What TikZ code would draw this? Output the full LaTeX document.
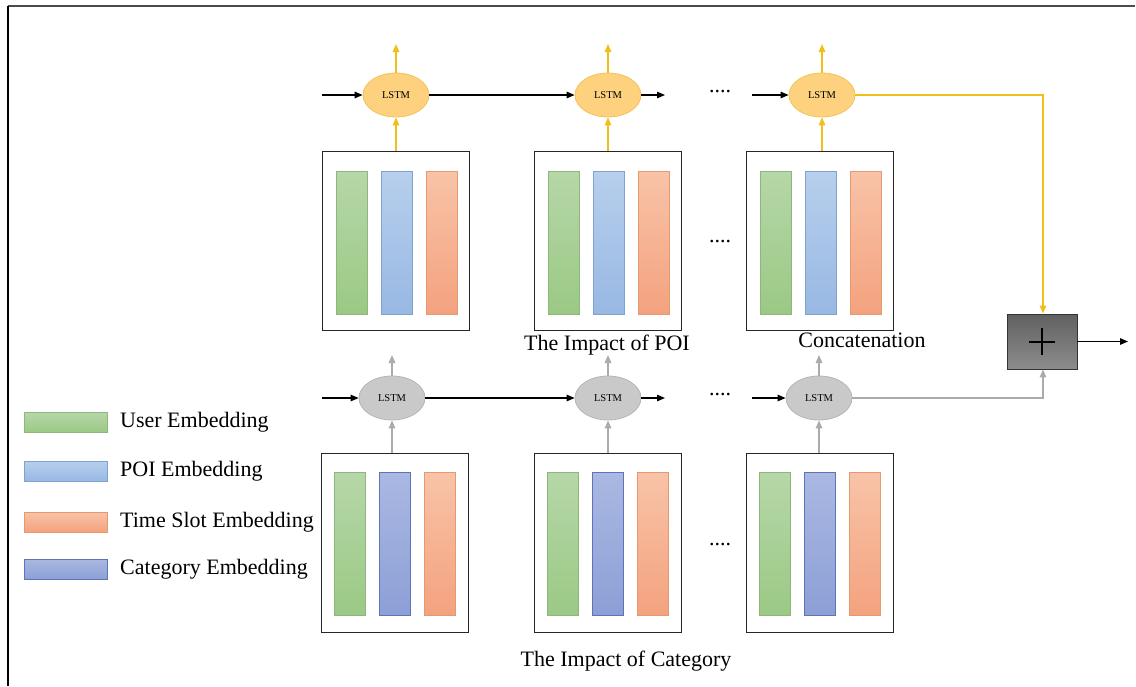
\documentclass[tikz,border=0pt]{standalone}
\usepackage{fontspec}
\setmainfont{Liberation Serif}
\usetikzlibrary{arrows.meta,shapes.geometric,positioning,calc}
\definecolor{grA}{HTML}{B6D7A8}\definecolor{grB}{HTML}{9BC985}\definecolor{grD}{HTML}{8DB87A}
\definecolor{blA}{HTML}{B7CFEC}\definecolor{blB}{HTML}{98B8E3}\definecolor{blD}{HTML}{7FA2CF}
\definecolor{orA}{HTML}{F8C3A8}\definecolor{orB}{HTML}{F4A27E}\definecolor{orD}{HTML}{E5996F}
\definecolor{caA}{HTML}{AAB8E2}\definecolor{caB}{HTML}{8C9FD6}\definecolor{caD}{HTML}{5D74B7}
\definecolor{ylF}{HTML}{FDD17E}\definecolor{ylD}{HTML}{F1C45A}\definecolor{ylL}{HTML}{F2BE1A}
\definecolor{gyF}{HTML}{C9C9C9}\definecolor{gyD}{HTML}{B5B5B5}\definecolor{gyL}{HTML}{ABABAB}
\tikzset{
  frameline/.style={line width=1.6pt},
  seqbox/.style={draw=black!85, line width=0.9pt, minimum width=147pt, minimum height=179pt, inner sep=0pt},
  bar/.style={line width=0.7pt, minimum width=31pt, minimum height=143pt, inner sep=0pt},
  ubar/.style={bar, draw=grD, top color=grA, bottom color=grB},
  pbar/.style={bar, draw=blD, top color=blA, bottom color=blB},
  tbar/.style={bar, draw=orD, top color=orA, bottom color=orB},
  cbar/.style={bar, draw=caD, top color=caA, bottom color=caB},
  swatch/.style={line width=0.7pt, minimum width=83pt, minimum height=20pt, inner sep=0pt},
  lstmY/.style={ellipse, draw=ylD, fill=ylF, line width=0.8pt, minimum width=66pt, minimum height=44pt, inner sep=0pt, font=\fontsize{10.5}{12}\selectfont},
  lstmG/.style={ellipse, draw=gyD, fill=gyF, line width=0.8pt, minimum width=66pt, minimum height=44pt, inner sep=0pt, font=\fontsize{10.5}{12}\selectfont},
  blk/.style={black, line width=1.3pt, -{Triangle[length=8pt,width=6.5pt]}},
  ylw/.style={ylL, line width=1.5pt, -{Triangle[length=8pt,width=6.5pt]}},
  gry/.style={gyL, line width=1.5pt, -{Triangle[length=8pt,width=6.5pt]}},
  txt/.style={font=\fontsize{22}{25}\selectfont, inner sep=0pt},
  dots/.style={font=\fontsize{22}{25}\selectfont, inner sep=0pt},
  plusbox/.style={draw=black!80, line width=0.9pt, top color=black!62, bottom color=black!45, minimum width=70pt, minimum height=55pt, inner sep=0pt}
}
\begin{document}
\begin{tikzpicture}[x=1pt,y=-1pt]
\useasboundingbox (0,0) rectangle (1136,686);
% frame
\draw[black!70, line width=2pt] (8,6) -- (1135,6);
\draw[black, frameline] (8,6) -- (8,686);

% ---------- top row ----------
\foreach \n/\cx in {1/395.5,2/608,3/820}{
  \node[seqbox] (tb\n) at (\cx,240.5) {};
  \node[ubar] (tu\n) at (\cx-44,242.5) {};
  \node[pbar] (tp\n) at (\cx+1,242.5) {};
  \node[tbar] (tt\n) at (\cx+46,242.5) {};
}
\node[lstmY] (te1) at (396,95) {LSTM};
\node[lstmY] (te2) at (608,95) {LSTM};
\node[lstmY] (te3) at (822,95) {LSTM};
\foreach \n/\cx in {1/396,2/608,3/822}{
  \coordinate (tup\n) at (\cx,44);
  \draw[ylw] (te\n.north) -- (tup\n);
  \draw[ylw] (tb\n.north -| te\n) -- (te\n.south);
}
\coordinate (tin) at (322,95);
\coordinate (tmid) at (665,95);
\coordinate (tmidb) at (752,95);
\draw[blk] (tin) -- (te1.west);
\draw[blk] (te1.east) -- (te2.west);
\draw[blk] (te2.east) -- (tmid);
\node[dots] (tdots) at (720,92) {....};
\draw[blk] (tmidb) -- (te3.west);
\node[dots] (tdotsbox) at (720,242) {....};
\node[txt] (poilab) at (607,345) {The Impact of POI};
\node[txt] (conlab) at (862,340) {Concatenation};

% ---------- bottom row ----------
\foreach \n/\cx in {1/394.5,2/608,3/820}{
  \node[seqbox] (bb\n) at (\cx,542.5) {};
  \node[ubar] (bu\n) at (\cx-45,544) {};
  \node[cbar] (bp\n) at (\cx+0,544) {};
  \node[tbar] (bt\n) at (\cx+45,544) {};
}
\node[lstmG] (be1) at (392,398) {LSTM};
\node[lstmG] (be2) at (608,398) {LSTM};
\node[lstmG] (be3) at (819,398) {LSTM};
\foreach \n/\cx in {1/392,2/608,3/819}{
  \coordinate (bup\n) at (\cx,355);
  \draw[gry] (be\n.north) -- (bup\n);
  \draw[gry] (bb\n.north -| be\n) -- (be\n.south);
}
\coordinate (bin) at (322,398);
\coordinate (bmid) at (665,398);
\coordinate (bmidb) at (752,398);
\draw[blk] (bin) -- (be1.west);
\draw[blk] (be1.east) -- (be2.west);
\draw[blk] (be2.east) -- (bmid);
\node[dots] (bdots) at (720,395) {....};
\draw[blk] (bmidb) -- (be3.west);
\node[dots] (bdotsbox) at (720,545) {....};
\node[txt] (catlab) at (626,661) {The Impact of Category};

% ---------- concatenation ----------
\node[plusbox] (plus) at (1042,341.5) {};
\draw[black, line width=2pt] ($(plus.center)+(-13,0)$) -- ($(plus.center)+(13,0)$);
\draw[black, line width=2pt] ($(plus.center)+(0,-13.5)$) -- ($(plus.center)+(0,13.5)$);
\coordinate (tcorner) at (1043,95);
\coordinate (bcorner) at (1043,398);
\coordinate (outp) at (1128,341.5);
\draw[ylw] (te3.east) -- (tcorner) -- (tcorner |- plus.north);
\draw[gry] (be3.east) -- (bcorner) -- (bcorner |- plus.south);
\draw[blk] (plus.east) -- (outp);

% ---------- legend ----------
\node[swatch, draw=grD, top color=grA, bottom color=grB] (lu) at (65.5,422) {};
\node[swatch, draw=blD, top color=blA, bottom color=blB] (lp) at (65.5,471) {};
\node[swatch, draw=orD, top color=orA, bottom color=orB] (lt) at (65.5,522) {};
\node[swatch, draw=caD, top color=caA, bottom color=caB] (lc) at (65.5,569) {};
\node[txt, anchor=west] (lut) at (120,422) {User Embedding};
\node[txt, anchor=west] (lpt) at (120,471) {POI Embedding};
\node[txt, anchor=west] (ltt) at (120,522) {Time Slot Embedding};
\node[txt, anchor=west] (lct) at (120,569) {Category Embedding};
\end{tikzpicture}
\end{document}
